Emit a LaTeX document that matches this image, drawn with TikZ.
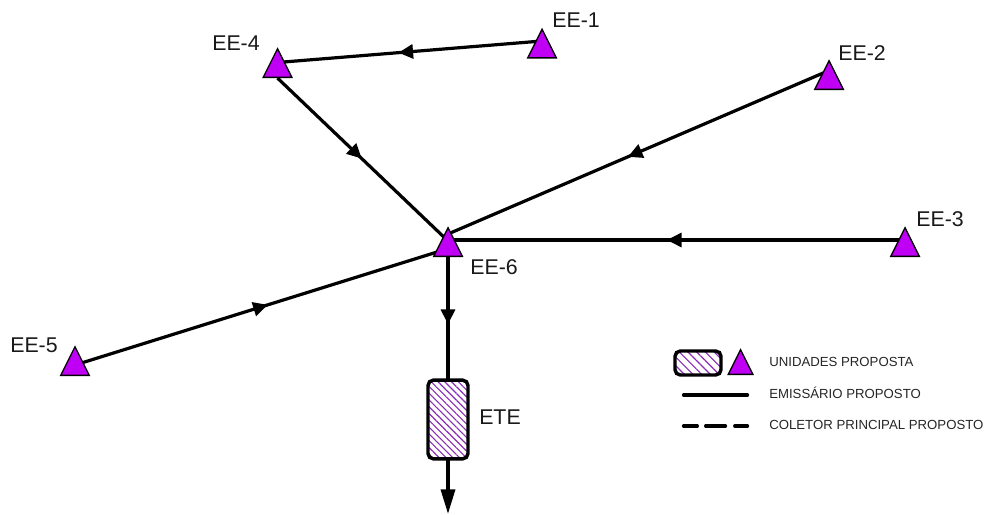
\documentclass[tikz,border=0pt]{standalone}
\usepackage{fontspec}
\setmainfont{Liberation Sans}
\usetikzlibrary{shapes.geometric,arrows.meta,decorations.markings,patterns.meta,backgrounds,calc}
\definecolor{eepurple}{HTML}{BF00F5}
\definecolor{hatchpurple}{HTML}{8A2BB5}
\tikzset{
  x=0.75pt,y=-0.75pt,
  station/.style={draw=black,fill=eepurple,line width=1pt,isosceles triangle,shape border rotate=90,
    isosceles triangle stretches,minimum width=21.5pt,minimum height=21.5pt,inner sep=0pt,anchor=apex},
  smallstation/.style={station,minimum width=18.5pt,minimum height=18.5pt},
  unit/.style={draw=black,line width=2.6pt,rounded corners=4pt,
    pattern={Lines[angle=-45,distance=#1,line width=0.85pt]},pattern color=hatchpurple,inner sep=0pt},
  lbl/.style={font=\fontsize{16pt}{18pt}\selectfont,inner sep=0pt,text=black!90},
  legendtext/.style={font=\fontsize{9.9pt}{11pt}\selectfont,inner sep=0pt,anchor=west,text=black!85},
  emissary/.style={line width=2.4pt,postaction={decorate}},
  flowmark/.style={decoration={markings,mark=at position #1 with {\arrow{Triangle[length=11pt,width=10.5pt]}}}},
  legendline/.style={line width=2.4pt,line cap=round},
  legenddash/.style={legendline,dash pattern=on 10.4pt off 6.2pt on 14.9pt off 6.9pt on 9.6pt off 6pt},
}
\begin{document}
\begin{tikzpicture}
\useasboundingbox (0,0) rectangle (984,514);
\node[station] (ee1) at (542,27.5) {};
\node[station] (ee4) at (277.5,47) {};
\node[station] (ee2) at (829,59) {};
\node[station] (ee3) at (905,226) {};
\node[station] (ee6) at (448,226) {};
\node[station] (ee5) at (75,345) {};
\coordinate (e1w) at ($(ee1.apex)+(0,13.5)$);
\coordinate (e4e) at ($(ee4.apex)+(0,15.5)$);
\coordinate (e4s) at ($(ee4.left corner)!0.5!(ee4.right corner)$);
\coordinate (e2w) at ($(ee2.apex)+(0,11.5)$);
\coordinate (e3w) at ($(ee3.apex)+(0,14)$);
\coordinate (e5e) at ($(ee5.apex)+(0,20)$);
\coordinate (e6a) at ($(ee6.apex)+(0,15)$);
\coordinate (e6b) at ($(ee6.apex)+(0,8)$);
\coordinate (e6c) at ($(ee6.apex)+(0,14)$);
\coordinate (e6d) at ($(ee6.apex)+(0,22.6)$);
\node[unit=3.6pt,minimum width=30pt,minimum height=59pt] (ete) at (448,419.5) {};
\coordinate (out) at (448,514);
\node[lbl] (l1) at (576,20) {EE-1};
\node[lbl] (l4) at (236,43) {EE-4};
\node[lbl] (l2) at (862,53) {EE-2};
\node[lbl] (l3) at (940,219) {EE-3};
\node[lbl] (l6) at (494,267) {EE-6};
\node[lbl] (l5) at (34,345) {EE-5};
\node[lbl] (lete) at (500,417) {ETE};
\begin{scope}[on background layer]
\draw[emissary,flowmark=0.543] (e1w) -- (e4e);
\draw[emissary,flowmark=0.494] (e4s) -- (e6a);
\draw[emissary,flowmark=0.528] (e2w) -- (e6b);
\draw[emissary,flowmark=0.521] (e3w) -- (e6c);
\draw[emissary,flowmark=0.517] (e5e) -- (e6d);
\draw[emissary,flowmark=0.6] (e6a) -- (ete.north);
\end{scope}
\draw[line width=2.6pt,-{Triangle[length=18.5pt,width=10.5pt]}] (ete.south) -- (out);
% legend
\node[unit=4.6pt,minimum width=34.5pt,minimum height=18pt] (lu) at (698,363) {};
\node[smallstation] (lt) at (740.5,348) {};
\node[legendtext] (t1) at (769,362) {UNIDADES PROPOSTA};
\node[legendtext] (t2) at (769,393) {EMISSÁRIO PROPOSTO};
\node[legendtext] (t3) at (769,425) {COLETOR PRINCIPAL PROPOSTO};
\coordinate (a1) at (683.5,395); \coordinate (a2) at (747.5,395);
\coordinate (b1) at (683.5,426); \coordinate (b2) at (747.5,426);
\draw[legendline] (a1) -- (a2);
\draw[legenddash] (b1) -- (b2);
\end{tikzpicture}
\end{document}
